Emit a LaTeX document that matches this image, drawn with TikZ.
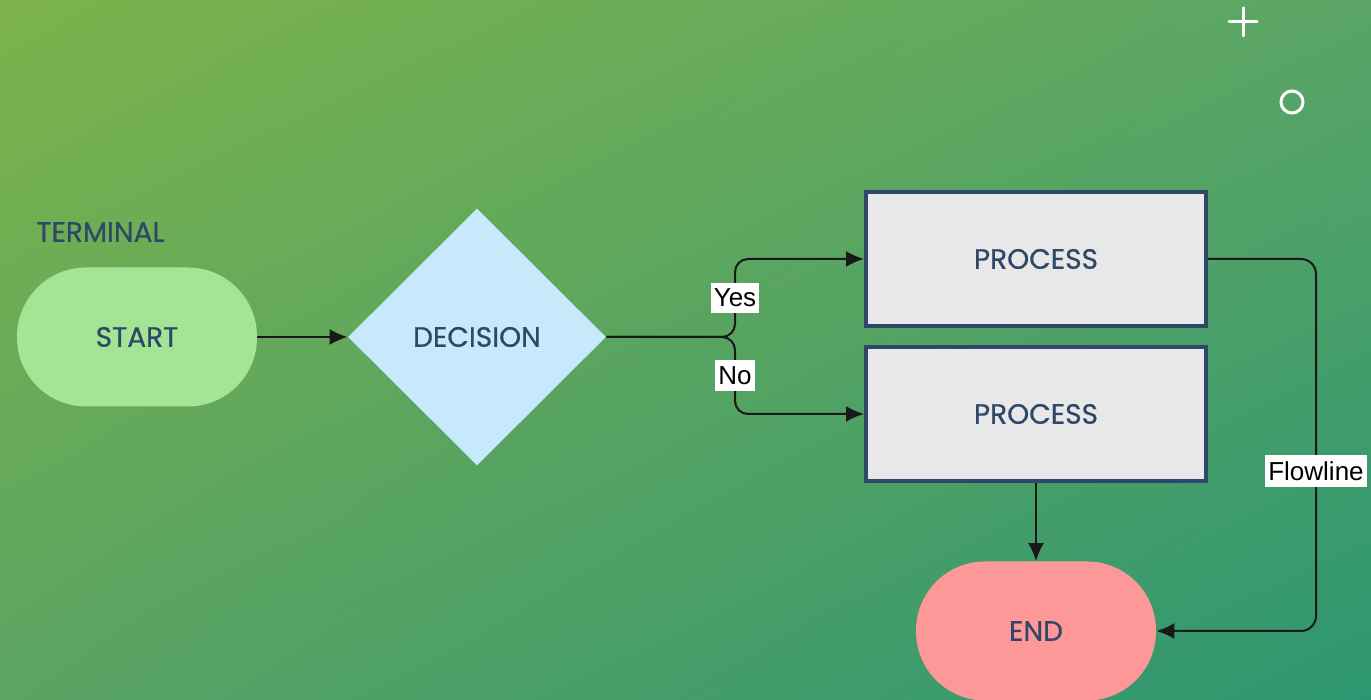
\documentclass[tikz,border=0pt]{standalone}
\usepackage{fontspec}
\usepackage{xcolor}
\usetikzlibrary{shapes.geometric,arrows.meta,shadings}
\setmainfont{Liberation Sans}
\newfontfamily\boxfont[FakeBold=0.6]{Poppins}

\definecolor{bgtl}{HTML}{7CB34A}
\definecolor{bgtr}{HTML}{5AA566}
\definecolor{bgbl}{HTML}{5BA463}
\definecolor{bgbr}{HTML}{2D9670}
\definecolor{navy}{HTML}{2F4768}
\definecolor{startfill}{HTML}{A3E594}
\definecolor{decfill}{HTML}{C6E9FB}
\definecolor{procfill}{HTML}{E8E8E8}
\definecolor{stopfill}{HTML}{FE9898}

\tikzset{
  terminal/.style={rectangle, rounded corners=34.5pt, minimum width=120pt, minimum height=69.5pt, text=navy, font=\boxfont\fontsize{14}{16}\selectfont},
  decision/.style={diamond, aspect=1, inner sep=0pt, minimum width=129pt, minimum height=128.5pt, fill=decfill, text=navy, font=\boxfont\fontsize{14}{16}\selectfont},
  process/.style={rectangle, draw=navy, line width=2pt, fill=procfill, minimum width=170pt, minimum height=67pt, text=navy, font=\boxfont\fontsize{14}{16}\selectfont},
  flow/.style={draw=black!90, line width=1pt, -{Latex[length=9pt,width=8pt]}},
  flowlabel/.style={sharp corners, fill=white, inner xsep=1.5pt, inner ysep=3pt, text=black, font=\fontsize{13}{15}\selectfont},
}

\begin{document}
\begin{tikzpicture}[x=0.5pt,y=0.5pt]

\shade[upper left=bgtl, upper right=bgtr, lower left=bgbl, lower right=bgbr] (0,0) rectangle (1371,700);
\useasboundingbox (0,0) rectangle (1371,700);

\draw[white, line width=1.5pt, line cap=round] (1229,678)--(1257,678) (1243,664)--(1243,692);
\draw[white, line width=1.5pt] (1292,598) circle (5.5pt);

\node[anchor=west, text=navy, font=\boxfont\fontsize{14}{16}\selectfont, inner sep=0pt] (termlabel) at (36,468) {TERMINAL};

\node[terminal, fill=startfill] (start) at (137,363) {START};
\node[decision] (decision) at (477,363) {DECISION};
\node[process] (yesproc) at (1036,441) {PROCESS};
\node[process] (noproc) at (1036,286) {PROCESS};
\node[terminal, fill=stopfill] (stop) at (1036,69) {END};

\coordinate (fork) at (735,363);

\draw[flow] (start) -- (decision);
\draw[flow, rounded corners=6.5pt] (decision.east) -- (fork) |- node[pos=0.25, flowlabel] {Yes} (yesproc.west);
\draw[flow, rounded corners=6.5pt] (decision.east) -- (fork) |- node[pos=0.25, flowlabel] {No} (noproc.west);
\draw[flow] (noproc) -- (stop);
\draw[flow, rounded corners=7.5pt] (yesproc.east) -- ++(108,0) |- node[pos=0.285, flowlabel] {Flowline} (stop.east);

\end{tikzpicture}
\end{document}
